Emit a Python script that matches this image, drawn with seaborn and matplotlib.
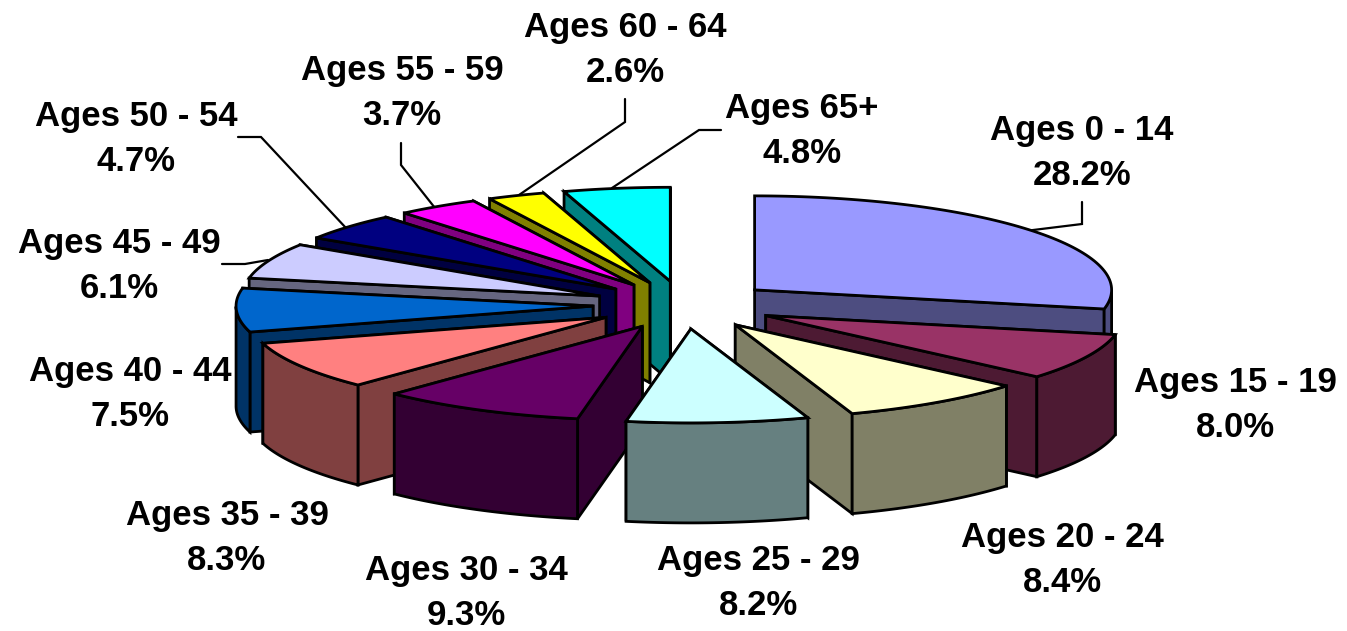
import numpy as np
import matplotlib
matplotlib.use('Agg')
import matplotlib.pyplot as plt
import seaborn as sns

# 数据
categories = ['Ages 0 - 14', 'Ages 15 - 19', 'Ages 20 - 24', 'Ages 25 - 29', 'Ages 30 - 34', 'Ages 35 - 39',
              'Ages 40 - 44', 'Ages 45 - 49', 'Ages 50 - 54', 'Ages 55 - 59', 'Ages 60 - 64', 'Ages 65+']
shares = [28.2, 8.0, 8.4, 8.2, 9.3, 8.3, 7.5, 6.1, 4.7, 3.7, 2.6, 4.8]
colors = ['#9999FF', '#993366', '#FFFFCC', '#CCFFFF', '#660066', '#FF8080',
          '#0066CC', '#CCCCFF', '#000080', '#FF00FF', '#FFFF00', '#00FFFF']

# 标签中心位置（像素）
label_x = [1082, 1235, 1062, 758, 466, 227, 130, 119, 136, 402, 625, 802]
label_y = [153, 405, 560, 583, 593, 538, 394, 266, 139, 93, 50, 131]

# 引线
leaders = {
    'Ages 0 - 14': ([1082, 1082, 1025], [202, 224, 231]),
    'Ages 45 - 49': ([222, 245, 268], [264, 264, 260]),
    'Ages 50 - 54': ([238, 261, 346], [137, 137, 228]),
    'Ages 55 - 59': ([401, 401, 435], [143, 165, 208]),
    'Ages 60 - 64': ([625, 625, 519], [99, 122, 195]),
    'Ages 65+': ([721, 699, 612], [130, 130, 188]),
}

# 饼图几何
CX, CY = 684, 305
RX, RY = 357, 94
DEPTH = 100
EXPLODE = 0.255
LW = 2.0

sns.set_theme(style='white')
plt.rcParams['font.family'] = ['Liberation Sans', 'DejaVu Sans']
palette = sns.color_palette(colors)

fig, ax = plt.subplots(figsize=(13.47, 6.31), dpi=100)
ax.set_position([0, 0, 1, 1])
ax.set_xlim(0, 1347)
ax.set_ylim(631, 0)
ax.axis('off')


def draw_face(xs, ys, color, z):
    ax.fill(xs, ys, facecolor=color, edgecolor='black', linewidth=LW, joinstyle='miter', zorder=z)


def shade(color):
    return tuple(c * 0.5 for c in color)


fractions = np.array(shares) / np.sum(shares)
ends = np.cumsum(fractions) * 2 * np.pi
starts = ends - fractions * 2 * np.pi
mids = (starts + ends) / 2

# 从后往前画
order = np.argsort(-np.cos(mids))
for rank, i in enumerate(order):
    base = 10 + rank * 10
    tip_x = CX + EXPLODE * RX * np.sin(mids[i])
    tip_y = CY - EXPLODE * RY * np.cos(mids[i])
    t = np.linspace(starts[i], ends[i], 80)
    arc_x = tip_x + RX * np.sin(t)
    arc_y = tip_y - RY * np.cos(t)
    side = shade(palette[i])

    # 两个径向侧面，靠后的先画
    faces = []
    for px, py in ((arc_x[0], arc_y[0]), (arc_x[-1], arc_y[-1])):
        faces.append(([tip_x, px, px, tip_x], [tip_y, py, py + DEPTH, tip_y + DEPTH]))
    faces.sort(key=lambda f: np.mean(f[1]))
    draw_face(*faces[0], side, base)
    draw_face(*faces[1], side, base + 1)

    # 外弧侧面，只画朝前的部分
    front = np.cos(t) <= 0
    if front.any():
        fx, fy = arc_x[front], arc_y[front]
        draw_face(np.r_[fx, fx[::-1]], np.r_[fy, fy[::-1] + DEPTH], side, base + 2)

    # 顶面
    draw_face(np.r_[tip_x, arc_x], np.r_[tip_y, arc_y], palette[i], base + 3)

for name, (lx, ly) in leaders.items():
    ax.plot(lx, ly, color='black', linewidth=1.6, zorder=5, solid_joinstyle='miter')

for name, share, x, y in zip(categories, shares, label_x, label_y):
    ax.text(x, y, f'{name}\n{share:.1f}%', ha='center', va='center', fontsize=25,
            fontweight='bold', color='black', linespacing=1.43, zorder=310)

fig.savefig('out.png', dpi=100, facecolor='white')
